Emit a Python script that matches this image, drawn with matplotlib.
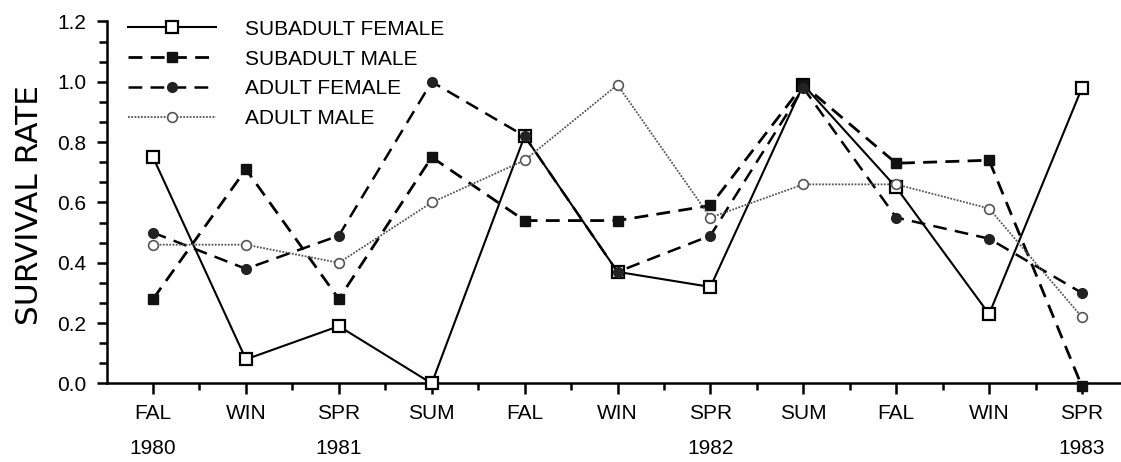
import matplotlib
matplotlib.use("Agg")
import matplotlib.pyplot as plt
from matplotlib.ticker import MultipleLocator, FixedLocator
import matplotlib.transforms as mtransforms

plt.rcParams['font.family'] = ['Liberation Sans', 'DejaVu Sans']

# ---- data ----
seasons = ["FAL", "WIN", "SPR", "SUM", "FAL", "WIN", "SPR", "SUM", "FAL", "WIN", "SPR"]
year_positions = [0, 2, 6, 10]
year_labels = ["1980", "1981", "1982", "1983"]

subadult_female = [0.75, 0.08, 0.19, 0.00, 0.82, 0.37, 0.32, 0.99, 0.65, 0.23, 0.98]
subadult_male = [0.28, 0.71, 0.28, 0.75, 0.54, 0.54, 0.59, 0.99, 0.73, 0.74, -0.01]
adult_female = [0.50, 0.38, 0.49, 1.00, 0.82, 0.37, 0.49, 0.98, 0.55, 0.48, 0.30]
adult_male = [0.46, 0.46, 0.40, 0.60, 0.74, 0.99, 0.55, 0.66, 0.66, 0.58, 0.22]

series_names = ["SUBADULT FEMALE", "SUBADULT MALE", "ADULT FEMALE", "ADULT MALE"]

x = list(range(len(seasons)))

fig = plt.figure(figsize=(11.21, 4.62), dpi=100)
ax = fig.add_axes([0.0955, 0.170, 0.9045, 0.7835])

ax.plot(x, subadult_female, color='black', lw=1.5, ls='-', marker='s', ms=8,
        mfc='white', mec='black', mew=1.6, label=series_names[0], clip_on=False, zorder=3)
ax.plot(x, subadult_male, color='black', lw=2.0, ls=(0, (5, 3)), marker='s', ms=7.5,
        mfc='#111111', mec='#111111', mew=1.0, label=series_names[1], clip_on=False, zorder=4)
ax.plot(x, adult_female, color='black', lw=1.8, ls=(0, (5.5, 3.3)), marker='o', ms=7,
        mfc='#222222', mec='#222222', mew=1.0, label=series_names[2], clip_on=False, zorder=5)
ax.plot(x, adult_male, color='#555555', lw=1.3, ls=(0, (1, 0.8)), marker='o', ms=7,
        mfc='white', mec='#555555', mew=1.2, label=series_names[3], clip_on=False, zorder=6)

ax.set_xlim(-0.495, 10.42)
ax.set_ylim(0, 1.2)

for s in ['top', 'right']:
    ax.spines[s].set_visible(False)
for s in ['left', 'bottom']:
    ax.spines[s].set_linewidth(1.8)
    ax.spines[s].set_color('black')

ax.xaxis.set_major_locator(FixedLocator(x))
ax.set_xticklabels(seasons)
ax.xaxis.set_minor_locator(FixedLocator([i + 0.5 for i in range(-1, len(seasons))]))
ax.yaxis.set_major_locator(MultipleLocator(0.2))
ax.yaxis.set_minor_locator(MultipleLocator(0.2 / 3))
ax.yaxis.set_major_formatter(matplotlib.ticker.FormatStrFormatter('%.1f'))

ax.tick_params(axis='x', which='major', direction='out', length=8, width=1.8, pad=7, labelsize=15)
ax.tick_params(axis='x', which='minor', direction='out', length=5, width=1.8)
ax.tick_params(axis='y', which='major', direction='out', length=7, width=1.8, pad=8, labelsize=15)
ax.tick_params(axis='y', which='minor', direction='out', length=6, width=1.8)

trans = mtransforms.blended_transform_factory(ax.transData, ax.transAxes)
for xp, yl in zip(year_positions, year_labels):
    ax.annotate(yl, xy=(xp, 0), xycoords=trans, xytext=(0, -47), textcoords='offset points',
                ha='center', va='center', fontsize=15)

ax.set_ylabel("SURVIVAL RATE", fontsize=22.5, family=['DejaVu Sans'])
ax.yaxis.set_label_coords(-0.062, 0.493)

leg = ax.legend(loc='upper left', bbox_to_anchor=(0.021, 1.005), frameon=False,
                fontsize=15, handlelength=4.2, handletextpad=1.4, labelspacing=0.52,
                borderpad=0, borderaxespad=0)

fig.savefig("out.png", dpi=100)
